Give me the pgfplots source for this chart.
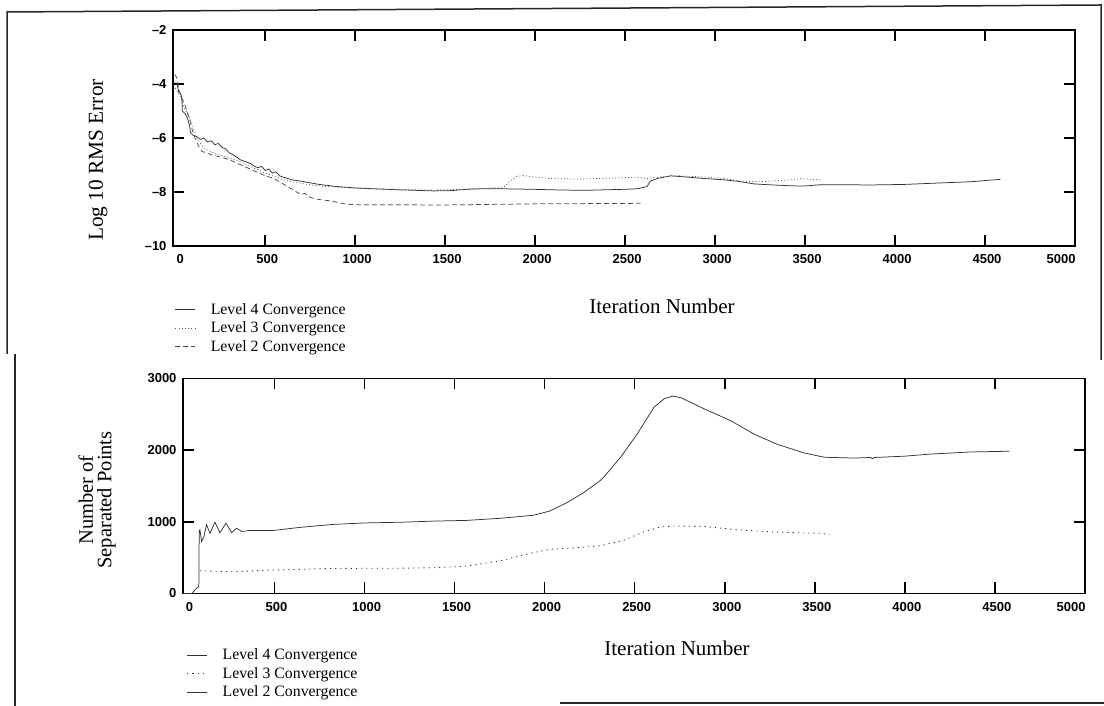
\documentclass[border=0pt]{standalone}
\usepackage{fontspec}
\setmainfont{Liberation Serif}
\newfontfamily\tickfont{Liberation Sans}
\usepackage{pgfplots}
\pgfplotsset{compat=1.18}
\pgfplotstableread{
x y
0 -3.95
10 -4.0
20 -4.3
30 -4.35
37 -4.5
40 -5.0
55 -5.1
70 -5.3
80 -5.55
85 -5.8
100 -5.9
120 -5.95
140 -6.05
160 -6.0
180 -6.15
200 -6.1
220 -6.25
240 -6.2
260 -6.35
280 -6.4
300 -6.55
330 -6.65
360 -6.8
400 -6.9
420 -6.95
440 -7.05
460 -7.1
480 -7.05
500 -7.2
520 -7.15
540 -7.3
560 -7.25
580 -7.4
600 -7.45
650 -7.55
700 -7.6
800 -7.72
900 -7.8
1000 -7.85
1100 -7.88
1250 -7.92
1435 -7.96
1530 -7.95
1620 -7.9
1700 -7.88
1805 -7.88
1990 -7.9
2100 -7.92
2270 -7.94
2383 -7.92
2500 -7.9
2567 -7.88
2622 -7.8
2640 -7.6
2678 -7.5
2754 -7.4
2850 -7.45
2939 -7.5
3050 -7.55
3122 -7.6
3217 -7.7
3320 -7.74
3420 -7.77
3494 -7.78
3587 -7.73
3700 -7.73
3865 -7.74
4050 -7.72
4233 -7.67
4420 -7.62
4587 -7.53
}\toplfour
\pgfplotstableread{
x y
0 -4.15
15 -4.3
30 -4.5
45 -4.8
60 -5.0
75 -5.2
90 -5.4
105 -5.7
120 -6.0
140 -6.2
160 -6.4
180 -6.45
200 -6.5
230 -6.6
260 -6.65
300 -6.75
350 -6.85
400 -7.0
450 -7.15
500 -7.3
550 -7.42
600 -7.55
700 -7.68
800 -7.78
900 -7.82
1000 -7.86
1200 -7.9
1400 -7.93
1600 -7.9
1750 -7.86
1830 -7.8
1860 -7.6
1900 -7.42
1933 -7.39
2000 -7.45
2083 -7.5
2233 -7.52
2361 -7.5
2450 -7.48
2560 -7.45
2622 -7.5
2680 -7.45
2800 -7.4
2950 -7.45
3050 -7.5
3150 -7.6
3250 -7.62
3350 -7.58
3420 -7.55
3480 -7.5
3530 -7.53
3587 -7.55
}\toplthree
\pgfplotstableread{
x y
0 -3.65
10 -3.8
20 -4.2
35 -4.5
50 -4.7
65 -5.0
80 -5.3
95 -5.7
110 -6.0
130 -6.3
150 -6.5
175 -6.55
200 -6.62
250 -6.7
300 -6.8
350 -6.95
400 -7.1
450 -7.25
500 -7.4
550 -7.5
600 -7.7
650 -7.9
700 -8.1
720 -8.05
750 -8.2
800 -8.28
850 -8.32
900 -8.38
950 -8.45
1000 -8.47
1500 -8.48
2000 -8.44
2587 -8.42
}\topltwo
\pgfplotstableread{
x y
-8 0
40 0
55 40
70 80
80 90
82 880
86 888
95 725
108 795
123 958
142 841
169 995
197 850
231 980
262 850
290 910
318 865
364 880
493 879
639 922
825 964
1010 985
1197 994
1382 1010
1567 1020
1753 1049
1938 1092
2028 1150
2121 1264
2214 1403
2306 1570
2331 1632
2424 1909
2516 2234
2608 2602
2664 2718
2710 2754
2757 2732
2886 2576
3034 2410
3164 2222
3293 2080
3442 1960
3553 1901
3719 1890
3811 1898
3820 1880
3830 1898
3997 1916
4145 1946
4367 1975
4580 1985
}\botlfour
\pgfplotstableread{
x y
86 317
271 303
457 325
827 350
1197 353
1400 360
1567 382
1753 457
1938 571
2031 617
2215 646
2306 665
2331 679
2442 745
2553 863
2645 929
2719 942
2886 935
3071 889
3256 860
3442 844
3534 841
3581 818
}\botlthree
\begin{document}
\begin{tikzpicture}
\path[use as bounding box] (0pt,0pt) rectangle (1104pt,706pt);
\pgfplotsset{
  myaxis/.style={
    scale only axis,
    width=902pt,
    anchor=south west,
    axis line style={line width=1.5pt},
    major tick style={line width=1.5pt, black},
    major tick length=11pt,
    tick align=inside,
    xtick pos=both, ytick pos=both,
    xticklabel pos=lower, yticklabel pos=left,
    tick label style={font=\tickfont\bfseries\fontsize{13}{13}\selectfont},
    xticklabel style={yshift=-5pt, xshift=2pt},
    yticklabel style={xshift=-3pt},
    /pgf/number format/assume math mode=true,
    /pgf/number format/set thousands separator={},
    xtick={500,1000,...,4500},
    extra x ticks={17,4912},
    extra x tick labels={0,5000},
    extra x tick style={major tick length=0pt},
    legend cell align=left,
    legend image code/.code={\draw[##1] (0pt,0pt) -- (20pt,0pt); \path (33pt,0pt);},
  }
}
% ---------- top axis ----------
\begin{axis}[myaxis,
  at={(173pt,460pt)},
  height=216pt,
  xmin=-12, xmax=5000,
  ymin=-10, ymax=-2,
  ytick={-8,-6,-4},
  yticklabels={–8,–6,–4},
  extra y ticks={-10,-2},
  extra y tick labels={–10,–2},
  extra y tick style={major tick length=0pt},
  legend style={at={(0.002,-0.255)}, anchor=north west, draw=none, fill=none,
    inner sep=0pt, font=\fontsize{15.8}{15.8}\selectfont, row sep=2pt},
]
\addplot[black!80, line width=0.75pt] table[x=x,y=y] {\toplfour};
\addlegendentry{Level 4 Convergence}
\addplot[black!65, line width=0.75pt, dash pattern=on 1pt off 2.2pt] table[x=x,y=y] {\toplthree};
\addlegendentry{Level 3 Convergence}
\addplot[black!70, line width=0.75pt, dash pattern=on 5pt off 3pt] table[x=x,y=y] {\topltwo};
\addlegendentry{Level 2 Convergence}
\end{axis}
% ---------- bottom axis ----------
\begin{axis}[myaxis,
  at={(183pt,112.5pt)},
  height=215pt,
  xmin=-8, xmax=5000,
  ymin=0, ymax=3000,
  ytick={1000,2000},
  extra y ticks={0,3000},
  extra y tick style={major tick length=0pt},
  legend style={at={(0.004,-0.247)}, anchor=north west, draw=none, fill=none,
    inner sep=0pt, font=\fontsize{15.8}{15.8}\selectfont, row sep=2pt},
]
\addplot[black!80, line width=0.75pt] table[x=x,y=y] {\botlfour};
\addlegendentry{Level 4 Convergence}
\addplot[black!80, line width=0.85pt, dash pattern=on 1.2pt off 4pt] table[x=x,y=y] {\botlthree};
\addlegendentry{Level 3 Convergence}
\addlegendimage{black!80, line width=0.75pt}
\addlegendentry{Level 2 Convergence}
\end{axis}
% ---------- labels ----------
\node[rotate=90, font=\fontsize{21.3}{21.3}\selectfont] at (98pt,546pt) {Log 10 RMS Error};
\node[rotate=90, align=center, font=\fontsize{20.5}{18.5}\selectfont] at (97pt,206pt) {Number of\\Separated Points};
\node[font=\fontsize{21}{21}\selectfont] at (662pt,400pt) {Iteration Number};
\node[font=\fontsize{21}{21}\selectfont] at (677pt,58pt) {Iteration Number};
% ---------- frame of the scanned page ----------
\draw[line width=1.5pt, black!85] (7pt,352pt) -- (7pt,694pt) -- (1101pt,701pt) -- (1101pt,346pt);
\draw[line width=1.5pt, black!85] (15pt,0pt) -- (15pt,352pt);
\draw[line width=1.5pt, black!85] (560pt,3pt) -- (1104pt,3pt);
\end{tikzpicture}
\end{document}
